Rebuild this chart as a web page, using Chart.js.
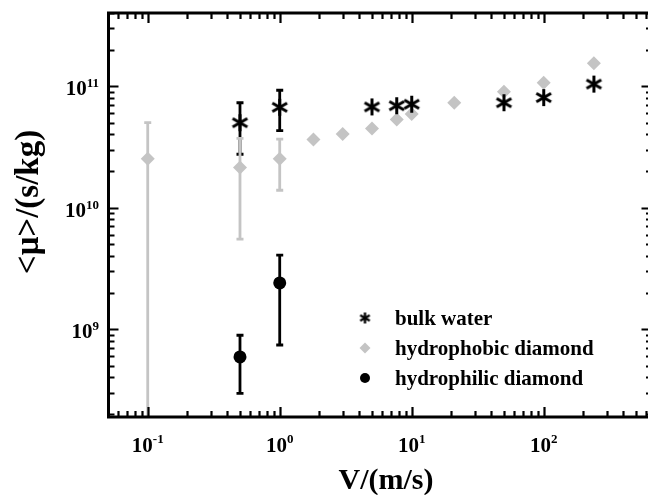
<!DOCTYPE html>
<html><head><meta charset="utf-8">
<script src="https://cdn.jsdelivr.net/npm/chart.js@4"></script>
<style>html,body{margin:0;padding:0;background:#fff;overflow:hidden}canvas{display:block}</style>
</head><body>
<canvas id="c" width="648" height="495"></canvas>
<script>
// ---- data ----
const seriesNames = ['bulk water', 'hydrophobic diamond', 'hydrophilic diamond'];

const bulkV    = [0.5, 1, 5, 7.7, 10, 50, 100, 240];
const bulkMu   = [5.0e10, 6.7e10, 6.75e10, 6.9e10, 7.1e10, 7.3e10, 8.05e10, 1.04e11];
const bulkLow  = [2.75e10, 4.3e10, null, null, null, null, null, null];
const bulkHigh = [7.3e10, 9.25e10, null, null, null, null, null, null];

const phobV    = [0.1, 0.5, 1, 1.8, 3, 5, 7.7, 10, 21, 50, 100, 240];
const phobMu   = [2.52e10, 2.14e10, 2.52e10, 3.64e10, 4.03e10, 4.49e10, 5.32e10, 5.89e10, 7.3e10, 8.98e10, 1.065e11, 1.54e11];
const phobLow  = [0, 5.5e9, 1.39e10, null, null, null, null, null, null, null, null, null];
const phobHigh = [5.0e10, 3.72e10, 3.66e10, null, null, null, null, null, null, null, null, null];

const philV    = [0.5, 1];
const philMu   = [5.9e8, 2.4e9];
const philLow  = [2.96e8, 7.4e8];
const philHigh = [8.9e8, 4.07e9];

const xTickValues = [0.1, 1, 10, 100];
const xTickExps   = ['-1', '0', '1', '2'];
const yTickValues = [1e9, 1e10, 1e11];
const yTickExps   = ['9', '10', '11'];
const xTitle = 'V/(m/s)';
const yTitle = '<\u03bc>/(s/kg)';

// ---- styling ----
const GRAY = '#c4c4c4';
const FONT = '"Liberation Serif", "Times New Roman", serif';

function makeAsterisk(r, lw) {
  const s = Math.ceil(2 * r + 4);
  const cv = document.createElement('canvas');
  cv.width = s; cv.height = s;
  const g = cv.getContext('2d');
  g.strokeStyle = '#000'; g.lineWidth = lw;
  const c = s / 2;
  [90, 30, 150].forEach(a => {
    const t = a * Math.PI / 180;
    g.beginPath();
    g.moveTo(c - r * Math.cos(t), c - r * Math.sin(t));
    g.lineTo(c + r * Math.cos(t), c + r * Math.sin(t));
    g.stroke();
  });
  return cv;
}
const astBig = makeAsterisk(8.5, 3);
const astSmall = makeAsterisk(5.5, 2.4);

const toPts = (xs, ys) => xs.map((v, i) => ({x: v, y: ys[i]}));

const errorSets = [
  {xs: bulkV, lo: bulkLow, hi: bulkHigh, color: '#000'},
  {xs: phobV, lo: phobLow, hi: phobHigh, color: GRAY},
  {xs: philV, lo: philLow, hi: philHigh, color: '#000'}
];

function drawPow(ctx, exp, x, yBase, yExp, align) {
  ctx.font = 'bold 21px ' + FONT;
  const wb = ctx.measureText('10').width;
  ctx.font = 'bold 13px ' + FONT;
  const we = ctx.measureText(exp).width;
  let start = align === 'right' ? x - wb - we : x - (wb + we) / 2;
  ctx.textAlign = 'left';
  ctx.textBaseline = 'alphabetic';
  ctx.font = 'bold 21px ' + FONT;
  ctx.fillText('10', start, yBase);
  ctx.font = 'bold 13px ' + FONT;
  ctx.fillText(exp, start + wb, yExp);
}

function logTicks(min, max) {
  const out = [];
  for (let e = Math.floor(Math.log10(min)); e <= Math.ceil(Math.log10(max)); e++) {
    for (let m = 1; m <= 9; m++) {
      const v = m * Math.pow(10, e);
      if (v >= min * 0.999 && v <= max * 1.001) out.push({v, major: m === 1});
    }
  }
  return out;
}

const framePlugin = {
  id: 'frame',
  beforeDatasetsDraw(chart) {
    const {ctx, chartArea: a, scales: {x, y}} = chart;
    ctx.save();
    ctx.beginPath();
    ctx.rect(a.left, a.top, a.right - a.left, a.bottom - a.top);
    ctx.clip();
    errorSets.forEach(s => {
      ctx.strokeStyle = s.color;
      ctx.lineWidth = 2.8;
      s.xs.forEach((v, i) => {
        if (s.hi[i] == null) return;
        const px = x.getPixelForValue(v);
        const pHi = y.getPixelForValue(s.hi[i]);
        const pLo = s.lo[i] > 0 ? y.getPixelForValue(s.lo[i]) : a.bottom + 5;
        ctx.beginPath();
        ctx.moveTo(px, pHi); ctx.lineTo(px, pLo);
        ctx.moveTo(px - 3.5, pHi); ctx.lineTo(px + 3.5, pHi);
        if (s.lo[i] > 0) { ctx.moveTo(px - 3.5, pLo); ctx.lineTo(px + 3.5, pLo); }
        ctx.stroke();
      });
    });
    ctx.restore();
  },
  afterDatasetsDraw(chart) {
    const {ctx, chartArea: a, scales: {x, y}} = chart;
    ctx.save();
    const L = a.left + 0.5, R = a.right + 1.5, T = a.top, B = a.bottom;
    // frame
    ctx.strokeStyle = '#000';
    ctx.lineWidth = 3;
    ctx.beginPath();
    ctx.moveTo(L, T); ctx.lineTo(R, T); ctx.lineTo(R, B); ctx.lineTo(L, B); ctx.closePath();
    ctx.stroke();
    // ticks (inward)
    ctx.lineWidth = 2.2;
    ctx.beginPath();
    logTicks(x.min, x.max).forEach(t => {
      const px = Math.round(x.getPixelForValue(t.v)) + 0.5;
      const len = t.major ? 10 : 6;
      ctx.moveTo(px, B); ctx.lineTo(px, B - len);
      ctx.moveTo(px, T); ctx.lineTo(px, T + len);
    });
    logTicks(y.min, y.max).forEach(t => {
      const py = Math.round(y.getPixelForValue(t.v)) + 0.5;
      ctx.moveTo(L, py); ctx.lineTo(L + (t.major ? 10 : 6), py);
      ctx.moveTo(R, py); ctx.lineTo(R - (t.major ? 8 : 3.5), py);
    });
    ctx.stroke();
    // tick labels
    ctx.fillStyle = '#000';
    xTickValues.forEach((v, i) => {
      const px = x.getPixelForValue(v);
      drawPow(ctx, xTickExps[i], px, B + 35, B + 26, 'center');
    });
    yTickValues.forEach((v, i) => {
      const py = y.getPixelForValue(v);
      drawPow(ctx, yTickExps[i], a.left - 9, py + 9, py + 1, 'right');
    });
    // axis titles
    ctx.font = 'bold 30px ' + FONT;
    ctx.textAlign = 'center';
    ctx.textBaseline = 'alphabetic';
    ctx.fillText(xTitle, 386, 489);
    ctx.save();
    ctx.font = 'bold 33px ' + FONT;
    ctx.translate(38, 202);
    ctx.rotate(-Math.PI / 2);
    ctx.fillText(yTitle, 0, 0);
    ctx.restore();
    // legend
    const lx = 365, rows = [318, 348, 378];
    const Hp = Chart.helpers;
    Hp.drawPoint(ctx, {pointStyle: astSmall, radius: 5, rotation: 0}, lx, rows[0]);
    ctx.fillStyle = GRAY;
    Hp.drawPoint(ctx, {pointStyle: 'rectRot', radius: 5.5, rotation: 0, borderWidth: 0}, lx, rows[1]);
    ctx.fillStyle = '#000';
    Hp.drawPoint(ctx, {pointStyle: 'circle', radius: 5, rotation: 0, borderWidth: 0}, lx, rows[2]);
    ctx.font = 'bold 21px ' + FONT;
    ctx.textAlign = 'left';
    ctx.textBaseline = 'alphabetic';
    ctx.fillStyle = '#000';
    seriesNames.forEach((n, i) => ctx.fillText(n, 395, rows[i] + 7));
    ctx.restore();
  }
};

new Chart(document.getElementById('c'), {
  type: 'scatter',
  data: {
    datasets: [
      {label: seriesNames[0], data: toPts(bulkV, bulkMu), pointStyle: astBig,
       pointRadius: 8, pointHoverRadius: 8},
      {label: seriesNames[1], data: toPts(phobV, phobMu), pointStyle: 'rectRot',
       pointRadius: 7, pointHoverRadius: 7, backgroundColor: GRAY, borderColor: GRAY, borderWidth: 0},
      {label: seriesNames[2], data: toPts(philV, philMu), pointStyle: 'circle',
       pointRadius: 6.5, pointHoverRadius: 6.5, backgroundColor: '#000', borderColor: '#000', borderWidth: 0}
    ]
  },
  options: {
    responsive: false,
    animation: false,
    devicePixelRatio: 1,
    layout: {autoPadding: false, padding: {left: 108, top: 13, right: 0, bottom: 78}},
    plugins: {legend: {display: false}, tooltip: {enabled: false}, title: {display: false}},
    scales: {
      x: {type: 'logarithmic', min: 0.05, max: 617, display: false},
      y: {type: 'logarithmic', min: 1.89e8, max: 4e11, display: false}
    }
  },
  plugins: [framePlugin]
});
</script>
</body></html>
